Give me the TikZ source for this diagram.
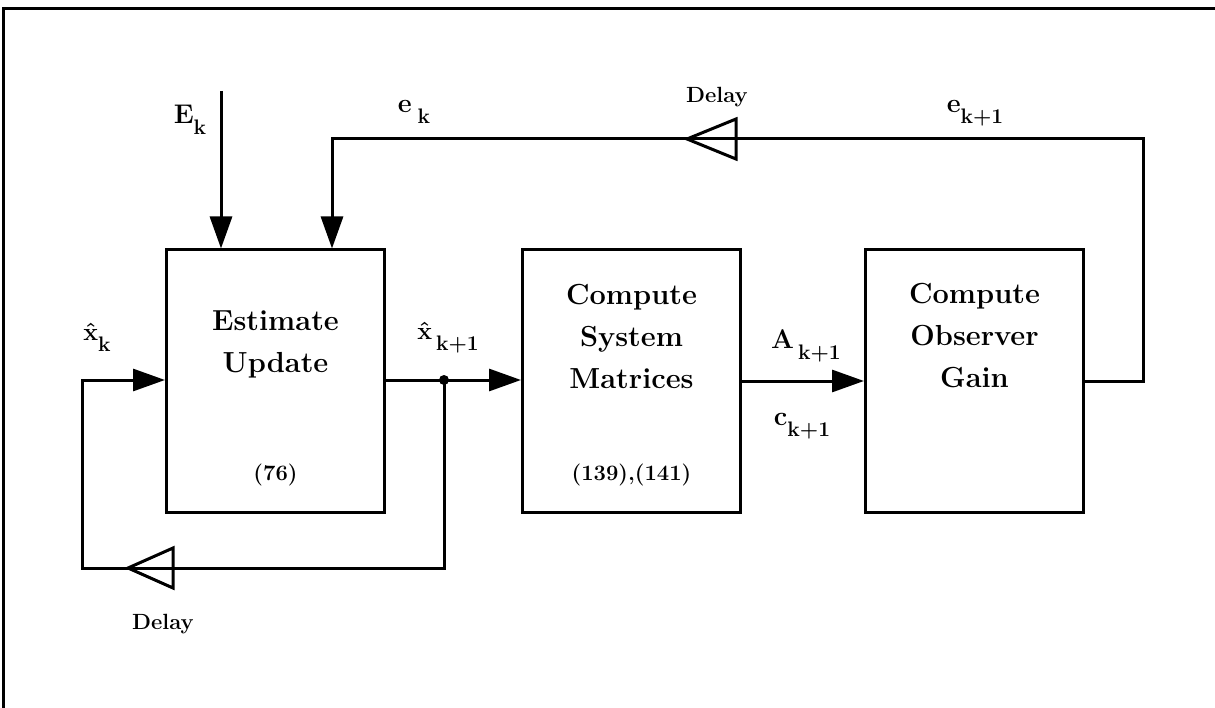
\documentclass[tikz,border=0pt]{standalone}
\usetikzlibrary{arrows.meta, positioning, calc}

\newcommand{\sigl}[3][0pt]{{\bfseries #2\kern#1\raisebox{-0.4em}{\fontsize{21}{21}\selectfont #3}}}
\newcommand{\hatx}{{\boldmath$\hat{\mathbf{x}}$}}

\begin{document}
\begin{tikzpicture}[x=1pt, y=-1pt, >={Triangle[length=32pt,width=22pt]}, line width=3pt,
  blk/.style={draw, line width=3pt, minimum width=218pt, minimum height=262pt, inner sep=0pt},
  ttl/.style={font=\fontsize{29}{42}\bfseries, align=center},
  eqn/.style={font=\fontsize{22}{26}\bfseries},
  sig/.style={font=\fontsize{27}{30}\selectfont, inner sep=0pt},
  dly/.style={font=\fontsize{22}{26}\bfseries}]

\useasboundingbox (0,0) rectangle (1215,708);

% page frame
\draw (3,708) -- (3,9) -- (1215,9);

% Blocks
\node[blk] (est) at (275.5,381) {};
\node[blk] (sys) at (631.5,381) {};
\node[blk] (obs) at (974.5,381) {};

% Block texts
\node[ttl] (estT) at (275.5,344) {Estimate\\Update};
\node[eqn] (estE) at (275.5,475) {(76)};
\node[ttl] (sysT) at (631.5,336) {Compute\\System\\Matrices};
\node[eqn] (sysE) at (631.5,475) {(139),(141)};
\node[ttl] (obsT) at (974.5,336) {Compute\\Observer\\Gain};

% Inputs from above
\coordinate (Etop) at (221,91);
\draw[->] (Etop) -- (est.north -| Etop);
\node[sig] (Elbl) at (190,120) {\sigl{E}{k}};

% Observer feedback with delay
\coordinate (fbR) at (1143,139);
\coordinate (fbL) at (332,139);
\coordinate (dlyA) at (687,139);
\draw (obs.east |- 0,381) -| (fbR) -- (dlyA);
\draw[->] (dlyA) -- (fbL) -- (est.north -| fbL);
\draw (dlyA) -- ++(49,-20) -- ++(0,40) -- cycle;
\node[dly] (dlyAT) at (717,97) {Delay};
\node[sig] (ekp) at (975,113) {\sigl{e}{k+1}};
\node[sig] (ek) at (414,112) {\sigl[6pt]{e}{k}};

% State update loop with delay
\coordinate (tap) at (444,380);
\coordinate (loopR) at (444,568);
\coordinate (loopL) at (82,568);
\coordinate (loopT) at (82,380);
\coordinate (dlyB) at (128,568);
\draw (est.east |- tap) -- (tap);
\draw[->] (tap) -- (sys.west |- tap);
\fill (tap) circle (5pt);
\draw (tap) -- (loopR) -- (dlyB);
\draw[->] (dlyB) -- (loopL) -- (loopT) -- (est.west |- loopT);
\draw (dlyB) -- ++(45,-20) -- ++(0,40) -- cycle;
\node[dly] (dlyBT) at (163,624) {Delay};
\node[sig] (xk) at (97,337) {\sigl{\hatx}{k}};
\node[sig] (xkp) at (448,338) {\sigl[4pt]{\hatx}{k+1}};

% System matrices to observer
\draw[->] (sys.east |- 0,381) -- (obs.west |- 0,381);
\node[sig] (Akp) at (806,346) {\sigl[4pt]{A}{k+1}};
\node[sig] (ckp) at (802,426) {\sigl{c}{k+1}};

\end{tikzpicture}
\end{document}
